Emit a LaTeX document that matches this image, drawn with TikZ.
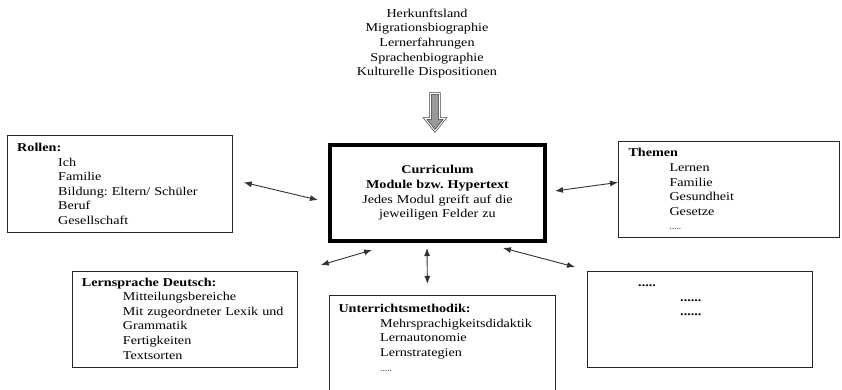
\documentclass[tikz,border=0pt]{standalone}
\usepackage{fontspec}
\setmainfont{Liberation Serif}[FakeStretch=1.18]
\usetikzlibrary{arrows.meta,calc}
\frenchspacing
\begin{document}
\begin{tikzpicture}[x=1pt,y=1pt,
  every node/.style={font=\fontsize{12}{14.6}\selectfont\frenchspacing, inner sep=0pt},
  framebox/.style={draw=black!85, line width=0.8pt, rectangle, anchor=north west, inner sep=0pt},
  boxtext/.style={anchor=base west, text width=260pt, align=left},
  link/.style={draw=black!80, line width=0.9pt, {Latex[length=8pt,width=6pt]}-{Latex[length=8pt,width=6pt]}},
]
\useasboundingbox (0,0) rectangle (842,-390);
\clip (0,0) rectangle (842,-390);
\fill[white] (0,0) rectangle (842,-390);

\node[anchor=base, text width=220pt, align=center] (herkunft) at (427,-17.3)
  {Herkunftsland\\Migrationsbiographie\\Lernerfahrungen\\Sprachenbiographie\\Kulturelle Dispositionen};

\node[draw=black, line width=4pt, minimum width=215pt, minimum height=96pt, text width=210pt, align=center] (curr) at (437.5,-193)
  {\textbf{Curriculum}\\\textbf{Module bzw. Hypertext}\\Jedes Modul greift auf die\\jeweiligen Felder zu};

\draw[draw=black!85, line width=0.6pt, double=white, double distance=1.1pt, fill=black!40, line join=miter]
  (430.5,-93.5) -- (439.5,-93.5) -- (439.5,-118.5) -- (445,-118.5) -- (435,-131) -- (425,-118.5) -- (430.5,-118.5) -- cycle;

\node[framebox, minimum width=225pt, minimum height=97pt] (rollen) at (7,-135) {};
\node[boxtext] (rollentext) at ($(rollen.north west)+(10,-16.5)$)
  {\textbf{Rollen:}\\\hspace*{41pt}Ich\\\hspace*{41pt}Familie\\\hspace*{41pt}Bildung: Eltern/ Schüler\\\hspace*{41pt}Beruf\\\hspace*{41pt}Gesellschaft};

\node[framebox, minimum width=221pt, minimum height=96pt] (themen) at (618,-141) {};
\node[boxtext] (thementext) at ($(themen.north west)+(10.3,-16)$)
  {\textbf{Themen}\\\hspace*{41pt}Lernen\\\hspace*{41pt}Familie\\\hspace*{41pt}Gesundheit\\\hspace*{41pt}Gesetze\\\hspace*{41pt}{\fontsize{8}{14.6}\selectfont .....}};

\node[framebox, minimum width=225pt, minimum height=96pt] (lern) at (72,-271) {};
\node[boxtext] (lerntext) at ($(lern.north west)+(9.7,-15)$)
  {\textbf{Lernsprache Deutsch:}\\\hspace*{41pt}Mitteilungsbereiche\\\hspace*{41pt}Mit zugeordneter Lexik und\\\hspace*{41pt}Grammatik\\\hspace*{41pt}Fertigkeiten\\\hspace*{41pt}Textsorten};

\node[framebox, minimum width=226pt, minimum height=110pt] (unter) at (329,-295) {};
\node[boxtext] (untertext) at ($(unter.north west)+(9.3,-17.7)$)
  {\textbf{Unterrichtsmethodik:}\\\hspace*{41.7pt}Mehrsprachigkeitsdidaktik\\\hspace*{41.7pt}Lernautonomie\\\hspace*{41.7pt}Lernstrategien\\\hspace*{41.7pt}{\fontsize{8}{14.6}\selectfont .....}};

\node[framebox, minimum width=225pt, minimum height=96pt] (dots) at (587,-271) {};
\node[boxtext] (dotstext) at ($(dots.north west)+(51,-15.7)$)
  {\textbf{.....}\\\hspace*{42pt}\textbf{......}\\\hspace*{42pt}\textbf{......}};

\draw[link] ($(rollen.east)+(11,1.5)$) -- ($(curr.west)+(-10,-7)$);
\draw[link] ($(curr.east)+(8,2)$) -- ($(themen.west)+(0,7)$);
\draw[link] ($(curr.south west)+(44,-7)$) -- ($(lern.north east)+(23,6)$);
\draw[link] ($(curr.south)+(-10.5,-5)$) -- ($(unter.north)+(-15,11)$);
\draw[link] ($(curr.south east)+(-44,-5)$) -- ($(dots.north west)+(-12,4)$);
\end{tikzpicture}
\end{document}
